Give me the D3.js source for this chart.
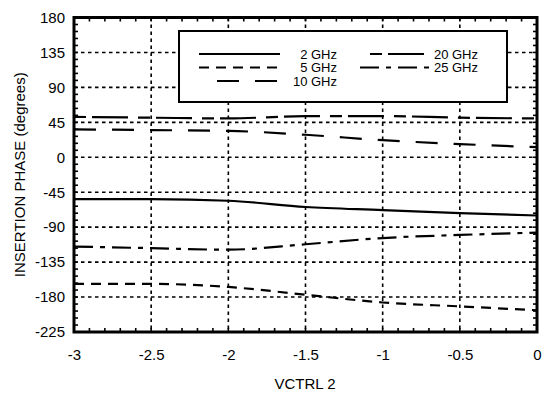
<!DOCTYPE html>
<html>
<head>
<meta charset="utf-8">
<script src="https://cdn.jsdelivr.net/npm/d3@7"></script>
<style>
  body { margin: 0; background: #fff; }
  svg { display: block; font-family: "Liberation Sans", Arial, sans-serif; }
</style>
</head>
<body>
<div id="chart"></div>
<script>
// values
const vctrl = [-3, -2.5, -2, -1.5, -1, -0.5, 0];
const phase2 = [-54, -54, -56, -64, -68, -72, -75];
const phase5 = [-163, -163, -167, -177, -187, -192, -197];
const phase10 = [36, 35, 34, 29, 22, 17, 13];
const phase20 = [52, 51, 50, 53, 53, 51, 50];
const phase25 = [-115, -117, -119, -112, -104, -100, -97];
const seriesNames = ["2 GHz", "5 GHz", "10 GHz", "20 GHz", "25 GHz"];
const xTicks = [-3, -2.5, -2, -1.5, -1, -0.5, 0];
const yTicks = [180, 135, 90, 45, 0, -45, -90, -135, -180, -225];

const dashes = {
  "2 GHz": null,
  "5 GHz": "10,7",
  "10 GHz": "22,16",
  "20 GHz": "12,6,36,10",
  "25 GHz": "19,7,5,7",
};

const series = [
  { name: "2 GHz", vals: phase2 },
  { name: "5 GHz", vals: phase5 },
  { name: "10 GHz", vals: phase10 },
  { name: "20 GHz", vals: phase20 },
  { name: "25 GHz", vals: phase25 },
];

let dimensions = {
  width: 546,
  height: 396,
  margin: { top: 17.5, right: 9, bottom: 64, left: 74 },
};
dimensions.boundedWidth =
  dimensions.width - dimensions.margin.left - dimensions.margin.right;
dimensions.boundedHeight =
  dimensions.height - dimensions.margin.top - dimensions.margin.bottom;

const xScale = d3.scaleLinear().domain([-3, 0]).range([0, dimensions.boundedWidth]);
const yScale = d3.scaleLinear().domain([-225, 180]).range([dimensions.boundedHeight, 0]);

const wrapper = d3
  .select("#chart")
  .append("svg")
  .attr("width", dimensions.width)
  .attr("height", dimensions.height);
const bounds = wrapper
  .append("g")
  .attr("transform", `translate(${dimensions.margin.left},${dimensions.margin.top})`);

// dotted grid
const grid = bounds.append("g").attr("stroke", "#000").attr("stroke-width", 1.6).attr("stroke-dasharray", "3.5,3.5");
grid
  .selectAll(".gx")
  .data(xTicks.slice(1, -1))
  .join("line")
  .attr("x1", (d) => xScale(d))
  .attr("x2", (d) => xScale(d))
  .attr("y1", 0)
  .attr("y2", dimensions.boundedHeight);
grid
  .selectAll(".gy")
  .data(yTicks.slice(1, -1))
  .join("line")
  .attr("y1", (d) => yScale(d))
  .attr("y2", (d) => yScale(d))
  .attr("x1", 0)
  .attr("x2", dimensions.boundedWidth);

// minor ticks on every side, pointing in
const xMinor = d3.range(-3, 0.001, 0.1);
const yMinor = d3.range(-225, 180.001, 9);
const minor = bounds.append("g").attr("stroke", "#000").attr("stroke-width", 1.6);
xMinor.forEach((v) => {
  minor.append("line").attr("x1", xScale(v)).attr("x2", xScale(v))
    .attr("y1", dimensions.boundedHeight).attr("y2", dimensions.boundedHeight - 4);
  minor.append("line").attr("x1", xScale(v)).attr("x2", xScale(v))
    .attr("y1", 0).attr("y2", 4);
});
yMinor.forEach((v) => {
  minor.append("line").attr("y1", yScale(v)).attr("y2", yScale(v))
    .attr("x1", 0).attr("x2", 4);
  minor.append("line").attr("y1", yScale(v)).attr("y2", yScale(v))
    .attr("x1", dimensions.boundedWidth).attr("x2", dimensions.boundedWidth - 4);
});

// axes (labels only, frame drawn below)
const xAxis = d3.axisBottom(xScale).tickValues(xTicks).tickSize(0).tickPadding(17)
  .tickFormat((d) => String(d));
const yAxis = d3.axisLeft(yScale).tickValues(yTicks).tickSize(0).tickPadding(9)
  .tickFormat((d) => String(d));
const xg = bounds.append("g").attr("transform", `translate(0,${dimensions.boundedHeight})`).call(xAxis);
const yg = bounds.append("g").call(yAxis);
[xg, yg].forEach((g) => {
  g.select(".domain").remove();
  g.selectAll("text").attr("font-size", 15).attr("fill", "#000")
    .attr("font-family", "Liberation Sans, Arial, sans-serif");
});

// data lines
const lineGen = d3
  .line()
  .x((d, i) => xScale(vctrl[i]))
  .y((d) => yScale(d))
  .curve(d3.curveMonotoneX);
bounds
  .append("g")
  .selectAll("path")
  .data(series)
  .join("path")
  .attr("d", (d) => lineGen(d.vals))
  .attr("fill", "none")
  .attr("stroke", "#000")
  .attr("stroke-width", 2.2)
  .attr("stroke-dasharray", (d) => dashes[d.name]);

// frame
bounds
  .append("rect")
  .attr("width", dimensions.boundedWidth)
  .attr("height", dimensions.boundedHeight)
  .attr("fill", "none")
  .attr("stroke", "#000")
  .attr("stroke-width", 3);

// legend
const legend = wrapper.append("g");
legend
  .append("rect")
  .attr("x", 179)
  .attr("y", 31)
  .attr("width", 328)
  .attr("height", 71)
  .attr("fill", "#fff")
  .attr("stroke", "#000")
  .attr("stroke-width", 2);
const legendItems = [
  { name: seriesNames[0], x1: 199, x2: 280, tx: 337, y: 54 },
  { name: seriesNames[1], x1: 199, x2: 280, tx: 337, y: 67.5 },
  { name: seriesNames[2], x1: 217, x2: 277, tx: 337, y: 81 },
  { name: seriesNames[3], x1: 370, x2: 430, tx: 478, y: 54 },
  { name: seriesNames[4], x1: 360, x2: 430, tx: 478, y: 67.5 },
];
legend
  .selectAll("line")
  .data(legendItems)
  .join("line")
  .attr("x1", (d) => d.x1)
  .attr("x2", (d) => d.x2)
  .attr("y1", (d) => d.y)
  .attr("y2", (d) => d.y)
  .attr("stroke", "#000")
  .attr("stroke-width", 2.2)
  .attr("stroke-dasharray", (d) => dashes[d.name]);
legend
  .selectAll("text")
  .data(legendItems)
  .join("text")
  .attr("x", (d) => d.tx)
  .attr("y", (d) => d.y + 4.5)
  .attr("text-anchor", "end")
  .attr("font-size", 13)
  .text((d) => d.name);

// axis titles
wrapper
  .append("text")
  .attr("x", 305)
  .attr("y", 389)
  .attr("text-anchor", "middle")
  .attr("font-size", 15)
  .text("VCTRL 2");
wrapper
  .append("text")
  .attr("transform", `translate(25,${dimensions.margin.top + dimensions.boundedHeight / 2}) rotate(-90)`)
  .attr("text-anchor", "middle")
  .attr("font-size", 15)
  .text("INSERTION PHASE (degrees)");
</script>
</body>
</html>
